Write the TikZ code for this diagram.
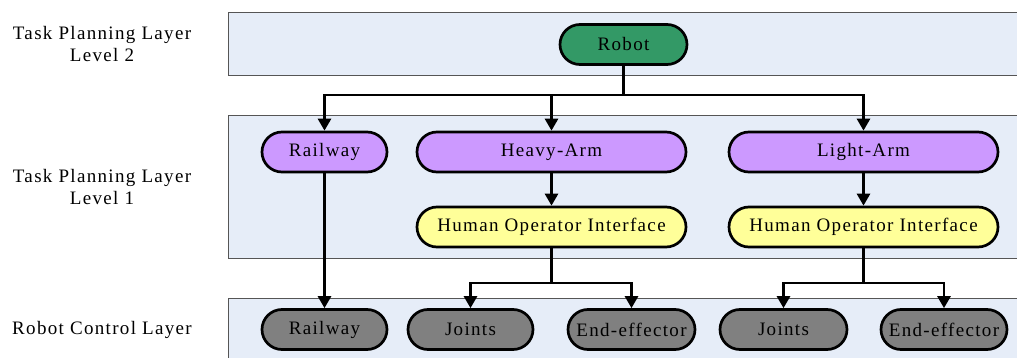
\documentclass[tikz,border=0pt]{standalone}
\usepackage{fontspec}
\setmainfont{Liberation Serif}[LetterSpace=7]
\usetikzlibrary{arrows.meta,calc}
\definecolor{bandfill}{HTML}{E6EDF8}
\definecolor{bandline}{HTML}{555555}
\definecolor{robotgreen}{HTML}{339966}
\definecolor{armpurple}{HTML}{CC99FF}
\definecolor{hoiyellow}{HTML}{FFFF99}
\definecolor{ctrlgray}{HTML}{808080}
\tikzset{
  band/.style={draw=bandline, line width=1pt, fill=bandfill},
  pill/.style={draw=black, line width=2.7pt, rounded corners=20pt, minimum height=40pt, inner sep=0pt, font=\fontsize{19}{21}\selectfont},
  conn/.style={line width=2.8pt},
  arr/.style={line width=2.8pt, -{Triangle[length=12pt,width=13pt]}},
  layerlabel/.style={align=center, font=\fontsize{19}{22}\selectfont},
}
\begin{document}
\begin{tikzpicture}[x=1pt,y=-1pt]
\useasboundingbox (0,0) rectangle (1017,358);
\clip (0,0) rectangle (1017,358);
% bands
\fill[white] (0,0) rectangle (1017,358);
\draw[band] (228,13) rectangle (1040,76);
\draw[band] (228,116) rectangle (1040,258);
\draw[band] (228,298) rectangle (1040,380);
% layer labels
\node[layerlabel] (l2) at (102,44.5) {Task Planning Layer\\Level 2};
\node[layerlabel] (l1) at (102,187) {Task Planning Layer\\Level 1};
\node[layerlabel] (l0) at (102,329.5) {Robot Control Layer};
% nodes
\node[pill, fill=robotgreen, minimum width=127pt] (robot) at (623.5,44.5) {Robot};
\node[pill, fill=armpurple, minimum width=125pt] (rail1) at (324.5,152) {Railway};
\node[pill, fill=armpurple, minimum width=269pt] (heavy) at (551.5,152) {Heavy-Arm};
\node[pill, fill=armpurple, minimum width=269pt] (light) at (863.5,152) {Light-Arm};
\node[pill, fill=hoiyellow, minimum width=269pt] (hoi1) at (551.5,227) {Human Operator Interface};
\node[pill, fill=hoiyellow, minimum width=269pt] (hoi2) at (863.5,227) {Human Operator Interface};
\node[pill, fill=ctrlgray, minimum width=125pt] (rail2) at (324.5,329.5) {Railway};
\node[pill, fill=ctrlgray, minimum width=125pt] (joint1) at (470.5,329.5) {Joints};
\node[pill, fill=ctrlgray, minimum width=127pt] (ee1) at (631.5,329.5) {End-effector};
\node[pill, fill=ctrlgray, minimum width=127pt] (joint2) at (783.5,329.5) {Joints};
\node[pill, fill=ctrlgray, minimum width=126pt] (ee2) at (944,329.5) {End-effector};
% bus coordinates
\coordinate (bus0) at (0,95);
\coordinate (bus1) at (0,283);
% connectors
\draw[conn] (robot.south) -- (robot.south |- bus0);
\draw[arr] (robot.south |- bus0) -| (rail1.north);
\draw[arr] (robot.south |- bus0) -| (heavy.north);
\draw[arr] (robot.south |- bus0) -| (light.north);
\draw[arr] (rail1.south) -- (rail2.north);
\draw[arr] (heavy.south) -- (hoi1.north);
\draw[arr] (light.south) -- (hoi2.north);
\draw[conn] (hoi1.south) -- (hoi1.south |- bus1);
\draw[arr] (hoi1.south |- bus1) -| (joint1.north);
\draw[arr] (hoi1.south |- bus1) -| (ee1.north);
\draw[conn] (hoi2.south) -- (hoi2.south |- bus1);
\draw[arr] (hoi2.south |- bus1) -| (joint2.north);
\draw[arr] (hoi2.south |- bus1) -| (ee2.north);
\end{tikzpicture}
\end{document}
